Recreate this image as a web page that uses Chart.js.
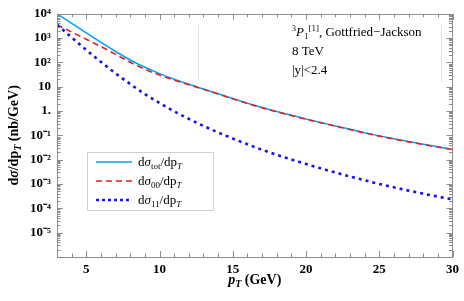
<!DOCTYPE html>
<html><head><meta charset="utf-8">
<script src="https://cdn.jsdelivr.net/npm/chart.js@4"></script>
<style>html,body{margin:0;padding:0;background:#fff}</style>
</head><body>
<canvas id="c" width="464" height="301"></canvas>
<script>
// ---- data ----
const pT = [3,4,5,6,7,8,9,10,11,12,13,14,15,16,17,18,19,20,21,22,23,24,25,26,27,28,29,30];
const dsTot = [10000,4074,1660,676,282,126,63.1,34.7,20.4,12.6,8.04,5.13,3.27,2.11,1.40,0.955,0.668,0.475,0.339,0.245,0.178,0.129,0.0955,0.0724,0.0556,0.0432,0.0339,0.0269];
const ds00 = [3548,1778,891,447,214,102,52.5,30.2,18.6,12.2,7.85,5.0,3.2,2.06,1.37,0.933,0.653,0.464,0.331,0.239,0.174,0.126,0.0933,0.0707,0.0543,0.0422,0.0331,0.0263];
const ds11 = [3548,1072,324,105,35.5,12.9,5.0,2.14,0.977,0.479,0.245,0.132,0.0741,0.0432,0.0257,0.0160,0.0102,0.00668,0.00442,0.00299,0.00204,0.00143,0.00101,0.000733,0.000537,0.000403,0.000305,0.000234];
const xTickValues = [5,10,15,20,25,30];
const yTickValues = [1e-5,1e-4,1e-3,1e-2,1e-1,1,10,100,1000,10000];
const yTickLabels = ['10\u207B\u2075','10\u207B\u2074','10\u207B\u00B3','10\u207B\u00B2','10\u207B\u00B9','1.','10','10\u00B2','10\u00B3','10\u2074'];
const seriesNames = ['tot','00','11'];

const SERIF = '"Liberation Serif", "Times New Roman", serif';
const colTot = 'rgb(0,160,255)', col00 = 'rgb(230,30,30)', col11 = 'rgb(20,20,235)';

function pts(arr){ return pT.map((x,i)=>({x:x,y:arr[i]})); }

function rich(ctx, x, y, parts, size, align){
  const fontOf = p => (p.it?'italic ':'') + (p.b?'bold ':'') + Math.round(size*(p.s||1)) + 'px ' + SERIF;
  let w = 0;
  parts.forEach(p=>{ ctx.font = fontOf(p); w += ctx.measureText(p.t).width; });
  let cx = align==='center' ? x - w/2 : x;
  ctx.textAlign='left'; ctx.textBaseline='alphabetic';
  parts.forEach(p=>{ ctx.font = fontOf(p); ctx.fillText(p.t, cx, y + (p.dy||0)); cx += ctx.measureText(p.t).width; });
}

const deco = {
  id:'deco',
  afterDatasetsDraw(chart){
    const ctx = chart.ctx, a = chart.chartArea, xs = chart.scales.x, ys = chart.scales.y;
    ctx.save();
    // faint vertical artifacts
    ctx.strokeStyle = '#e4e4e4'; ctx.lineWidth = 1;
    [12.65, 29.2].forEach(v=>{
      const px = Math.round(xs.getPixelForValue(v))+0.5;
      ctx.beginPath(); ctx.moveTo(px, ys.getPixelForValue(3500)); ctx.lineTo(px, ys.getPixelForValue(17)); ctx.stroke();
    });
    // frame
    ctx.strokeStyle = '#8c8c8c'; ctx.lineWidth = 1;
    ctx.strokeRect(Math.round(a.left)+0.5, Math.round(a.top)+0.5, Math.round(a.right-a.left)-1, Math.round(a.bottom-a.top));
    // x ticks
    for(let v=3; v<=30; v++){
      const px = Math.round(xs.getPixelForValue(v))+0.5;
      const L = v%5===0 ? 6 : 3.5;
      ctx.beginPath(); ctx.moveTo(px,a.bottom); ctx.lineTo(px,a.bottom-L); ctx.moveTo(px,a.top); ctx.lineTo(px,a.top+L); ctx.stroke();
    }
    // y ticks
    for(let e=-6; e<4; e++){
      for(let m=1; m<10; m++){
        const py = Math.round(ys.getPixelForValue(m*Math.pow(10,e)))+0.5;
        const L = m===1 ? 6 : 3.5;
        ctx.beginPath(); ctx.moveTo(a.left,py); ctx.lineTo(a.left+L,py); ctx.moveTo(a.right,py); ctx.lineTo(a.right-L,py); ctx.stroke();
      }
    }
    // legend
    const lx = 87, ly = 152, lw = 126, lh = 58;
    ctx.fillStyle = '#fff'; ctx.fillRect(lx,ly,lw,lh);
    ctx.strokeStyle = '#d0d0d0'; ctx.strokeRect(lx+0.5,ly+0.5,lw,lh);
    const rows = [[colTot,[],1.5],[col00,[6,4],1.5],[col11,[3,3],2.5]];
    rows.forEach((r,i)=>{
      const yy = 162 + i*19;
      ctx.strokeStyle = r[0]; ctx.lineWidth = r[2]; ctx.setLineDash(r[1]);
      ctx.beginPath(); ctx.moveTo(96,yy); ctx.lineTo(132,yy); ctx.stroke();
      ctx.setLineDash([]);
      ctx.fillStyle = '#000';
      rich(ctx, 138, yy+4, [{t:'d'},{t:'\u03C3',it:1},{t:seriesNames[i],s:0.72,dy:3},{t:'/dp'},{t:'T',it:1,s:0.72,dy:3}], 13);
    });
    // annotation
    ctx.fillStyle = '#000';
    rich(ctx, 292, 36, [{t:'3',s:0.65,dy:-5},{t:'P',it:1},{t:'1',s:0.7,dy:3},{t:'[1]',s:0.7,dy:-5},{t:', Gottfried\u2212Jackson'}], 13);
    rich(ctx, 292, 55, [{t:'8 TeV'}], 13);
    rich(ctx, 292, 74, [{t:'|y|<2.4'}], 13);
    // axis titles
    rich(ctx, (a.left+a.right)/2, 284, [{t:'p',it:1,b:1},{t:'T',it:1,b:1,s:0.72,dy:3},{t:' (GeV)',b:1}], 14, 'center');
    ctx.save();
    ctx.translate(18, (a.top+a.bottom)/2);
    ctx.rotate(-Math.PI/2);
    rich(ctx, 0, 0, [{t:'d',b:1},{t:'\u03C3',it:1,b:1},{t:'/dp',b:1},{t:'T',it:1,b:1,s:0.72,dy:3},{t:' (nb/GeV)',b:1}], 14, 'center');
    ctx.restore();
    ctx.restore();
  }
};

new Chart(document.getElementById('c'), {
  type:'line',
  data:{ datasets:[
    {data:pts(dsTot), borderColor:colTot, borderWidth:1.5, pointRadius:0, cubicInterpolationMode:'monotone', order:3},
    {data:pts(ds00), borderColor:col00, borderWidth:1.6, borderDash:[6,4], pointRadius:0, cubicInterpolationMode:'monotone', order:2},
    {data:pts(ds11), borderColor:col11, borderWidth:2.6, borderDash:[3,4], pointRadius:0, cubicInterpolationMode:'monotone', order:1}
  ]},
  options:{
    responsive:false, animation:false, devicePixelRatio:1,
    layout:{padding:{top:10,right:7,left:0,bottom:0}},
    plugins:{legend:{display:false}, tooltip:{enabled:false}},
    scales:{
      x:{type:'linear', min:3, max:30,
        afterBuildTicks:s=>{ s.ticks = xTickValues.map(v=>({value:v})); },
        afterFit:s=>{ s.height = 44; },
        grid:{display:false, drawTicks:false}, border:{display:false},
        ticks:{color:'#000', padding:5, maxRotation:0, autoSkip:false, font:{family:SERIF, size:13, weight:'bold'}}
      },
      y:{type:'logarithmic', min:1e-6, max:1e4,
        afterBuildTicks:s=>{ s.ticks = yTickValues.map(v=>({value:v})); },
        afterFit:s=>{ s.width = 57; },
        grid:{display:false, drawTicks:false}, border:{display:false},
        ticks:{color:'#000', padding:6, autoSkip:false, font:{family:SERIF, size:13, weight:'bold'},
          callback:(v,i)=>yTickLabels[i]}
      }
    }
  },
  plugins:[deco]
});
</script>
</body></html>
